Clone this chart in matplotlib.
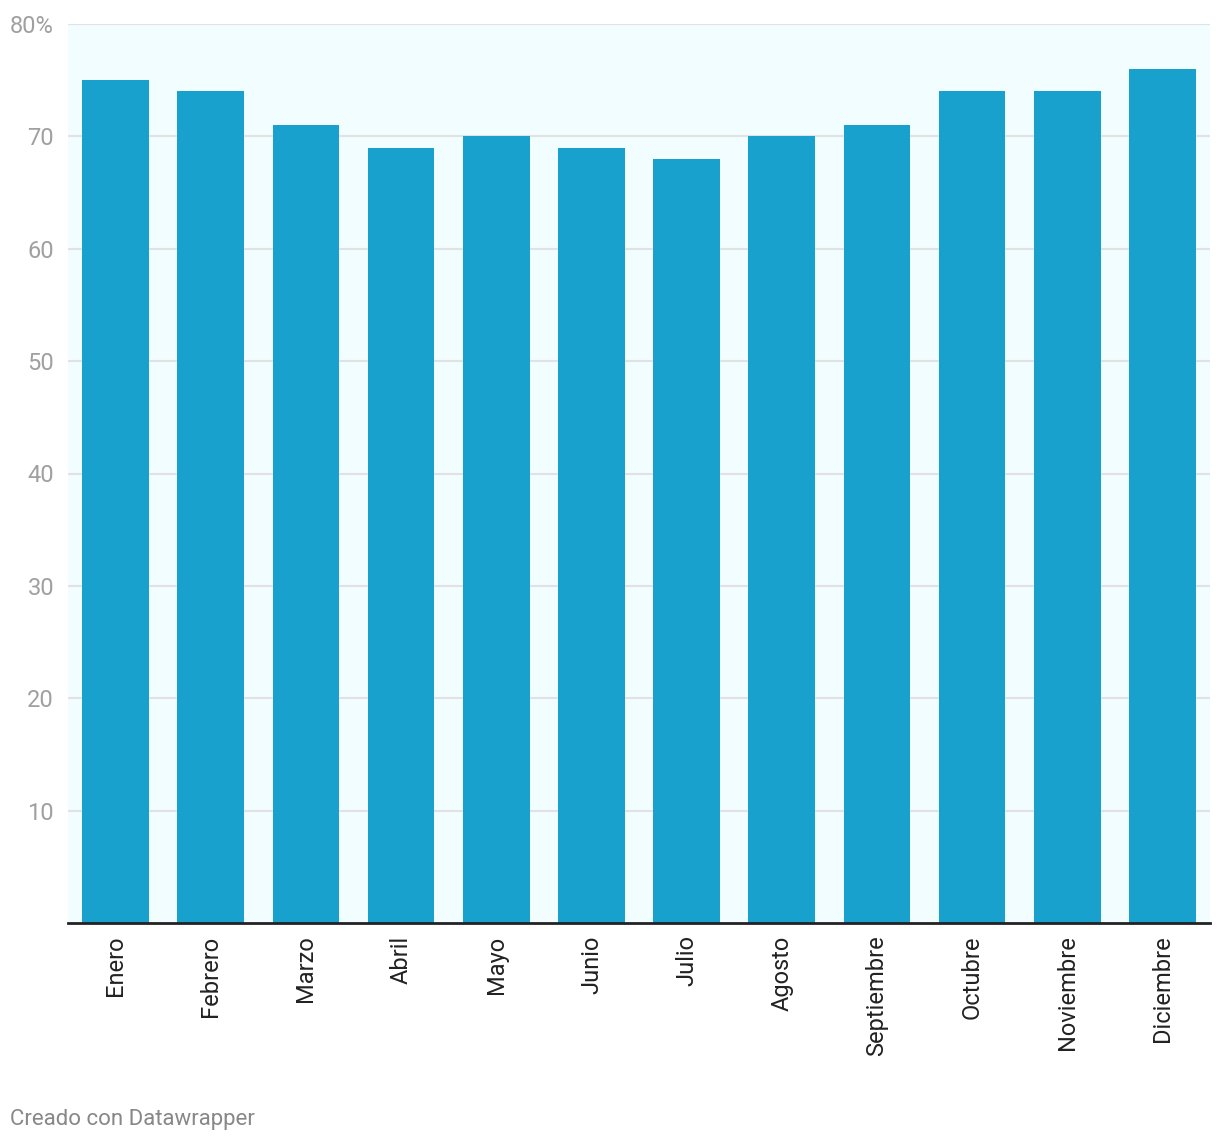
import matplotlib
matplotlib.use("Agg")
import matplotlib.pyplot as plt

months = ["Enero", "Febrero", "Marzo", "Abril", "Mayo", "Junio", "Julio",
          "Agosto", "Septiembre", "Octubre", "Noviembre", "Diciembre"]
values = [75, 74, 71, 69, 70, 69, 68, 70, 71, 74, 74, 76]
yticks = [10, 20, 30, 40, 50, 60, 70, 80]
ytick_labels = ["10", "20", "30", "40", "50", "60", "70", "80%"]

plt.rcParams['font.family'] = ['Roboto', 'DejaVu Sans']

W, H = 1220, 1142
fig = plt.figure(figsize=(W / 100, H / 100), dpi=100)
ax = fig.add_axes([68 / W, 1 - 923 / H, (1210 - 68) / W, (923 - 24) / H])
ax.set_facecolor("#f2fdff")

x = list(range(len(months)))
ax.bar(x, values, width=0.70, color="#18a1cd", zorder=3)

ax.set_xlim(-0.5, len(months) - 0.5)
ax.set_ylim(0, 80)
ax.set_yticks(yticks)
ax.set_yticklabels(ytick_labels, fontsize=17, color="#a0a0a0")
ax.set_xticks(x)
ax.set_xticklabels(months, rotation=90, fontsize=17, color="#222222",
                   va="top", ha="center")
ax.tick_params(axis="both", length=0)
ax.tick_params(axis="y", pad=10)
ax.tick_params(axis="x", pad=9)
ax.yaxis.grid(True, color="#e2e2e2", linewidth=1.5, zorder=1)
ax.set_axisbelow(True)
for s in ["top", "right", "left"]:
    ax.spines[s].set_visible(False)
ax.spines["bottom"].set_color("#222222")
ax.spines["bottom"].set_linewidth(2)
ax.spines["bottom"].set_zorder(4)

fig.text(10 / W, 1 - 1120 / H, "Creado con Datawrapper", fontsize=16,
         color="#888888", ha="left", va="center")

fig.savefig("out.png", dpi=100)
